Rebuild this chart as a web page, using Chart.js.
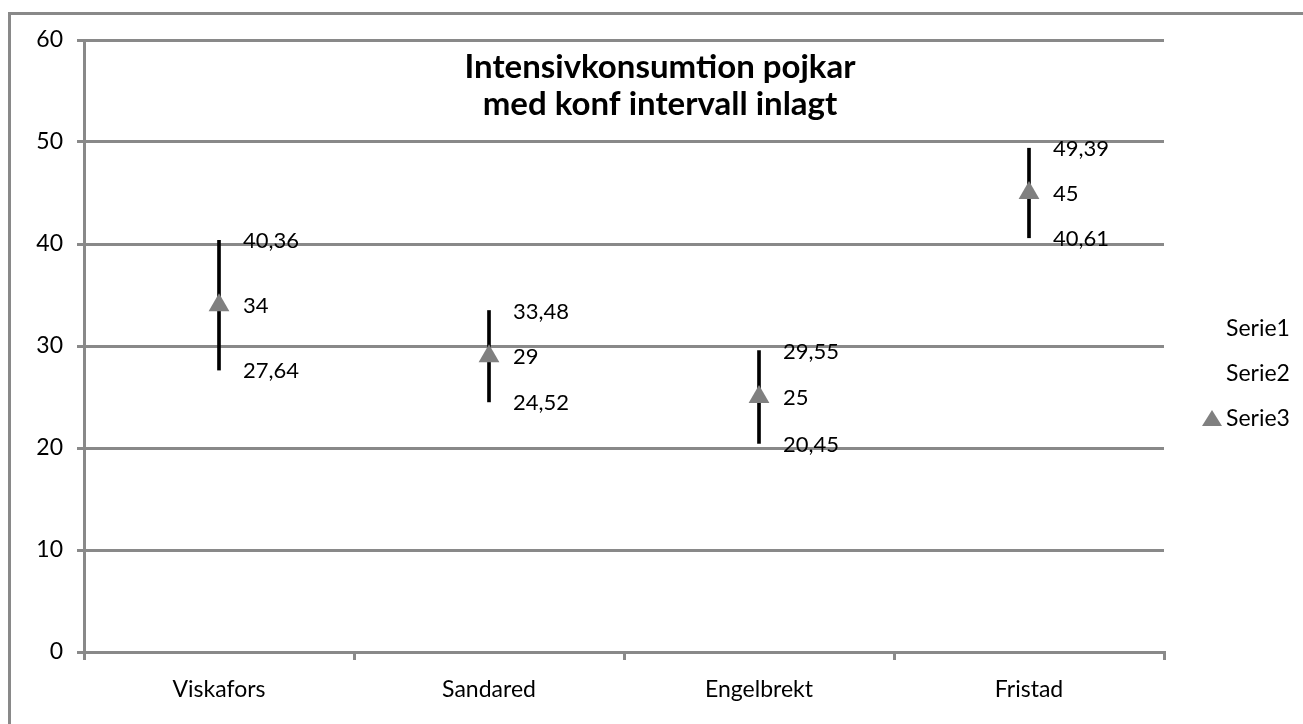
<!DOCTYPE html>
<html>
<head>
<meta charset="utf-8">
<title>Intensivkonsumtion pojkar</title>
<script src="https://cdn.jsdelivr.net/npm/chart.js@4/dist/chart.umd.min.js"></script>
<style>
  html, body { margin: 0; padding: 0; background: #fff; }
  #wrap { width: 1303px; height: 724px; }
</style>
</head>
<body>
<div id="wrap"><canvas id="canvas" width="1303" height="724"></canvas></div>
<script>
// data
const categories = ['Viskafors', 'Sandared', 'Engelbrekt', 'Fristad'];
const serie1 = [40.36, 33.48, 29.55, 49.39]; // upper limit
const serie2 = [27.64, 24.52, 20.45, 40.61]; // lower limit
const serie3 = [34, 29, 25, 45];             // value
const seriesNames = ['Serie1', 'Serie2', 'Serie3'];
const titleLines = ['Intensivkonsumtion pojkar', 'med konf intervall inlagt'];
const yMin = 0;
const yMax = 60;
const yStep = 10;

const FONT = 'Lato';
const GRID = '#898989';

const fmt = (v) => String(v).replace('.', ',');

// outer frame (only top and left edge are inside the picture)
const framePlugin = {
  id: 'frame',
  beforeDraw(chart) {
    const ctx = chart.ctx;
    ctx.save();
    ctx.fillStyle = '#fff';
    ctx.fillRect(0, 0, chart.width, chart.height);
    ctx.strokeStyle = GRID;
    ctx.lineWidth = 3;
    ctx.beginPath();
    ctx.moveTo(9.5, chart.height + 5);
    ctx.lineTo(9.5, 13.5);
    ctx.lineTo(chart.width + 5, 13.5);
    ctx.stroke();
    ctx.restore();
  }
};

// value labels to the right of each mark
const valueLabels = {
  id: 'valueLabels',
  afterDatasetsDraw(chart) {
    const ctx = chart.ctx;
    ctx.save();
    ctx.font = '22px ' + FONT;
    ctx.fillStyle = '#000';
    ctx.textAlign = 'left';
    ctx.textBaseline = 'middle';
    chart.data.datasets.forEach((ds, di) => {
      if (ds.type !== 'line') return;
      chart.getDatasetMeta(di).data.forEach((pt, i) => {
        ctx.fillText(fmt(ds.data[i]), pt.x + 24, pt.y + 1);
      });
    });
    ctx.restore();
  }
};

// title inside the plot and legend on the right
const titleLegend = {
  id: 'titleLegend',
  afterDraw(chart) {
    const ctx = chart.ctx;
    ctx.save();
    ctx.fillStyle = '#000';
    ctx.textAlign = 'center';
    ctx.textBaseline = 'middle';
    ctx.font = 'bold 33px ' + FONT;
    titleLines.forEach((t, i) => ctx.fillText(t, 660, 67 + i * 37));

    ctx.font = '23px ' + FONT;
    ctx.textAlign = 'left';
    const lx = 1226;
    const ly = 329;
    seriesNames.forEach((name, i) => {
      const y = ly + i * 45;
      ctx.fillStyle = '#000';
      ctx.fillText(name, lx, y);
      if (i === 2) {
        ctx.fillStyle = '#808080';
        ctx.beginPath();
        ctx.moveTo(1212, y - 9);
        ctx.lineTo(1222, y + 7);
        ctx.lineTo(1202, y + 7);
        ctx.closePath();
        ctx.fill();
      }
    });
    ctx.restore();
  }
};

const canvas = document.getElementById('canvas');

new Chart(canvas, {
  type: 'bar',
  data: {
    labels: categories,
    datasets: [
      {
        label: 'range',
        data: categories.map((c, i) => [serie2[i], serie1[i]]),
        backgroundColor: '#000',
        borderWidth: 0,
        barThickness: 3,
        order: 3,
      },
      {
        type: 'line',
        label: seriesNames[0],
        data: serie1,
        showLine: false,
        pointRadius: 0,
        order: 2,
      },
      {
        type: 'line',
        label: seriesNames[1],
        data: serie2,
        showLine: false,
        pointRadius: 0,
        order: 1,
      },
      {
        type: 'line',
        label: seriesNames[2],
        data: serie3,
        showLine: false,
        pointStyle: 'triangle',
        pointRadius: 12,
        pointBorderWidth: 0,
        pointBackgroundColor: '#808080',
        pointBorderColor: '#808080',
        order: 0,
      },
    ],
  },
  options: {
    responsive: false,
    animation: false,
    layout: {
      padding: { left: 0, top: 40, right: 139, bottom: 0 },
    },
    plugins: {
      legend: { display: false },
      title: { display: false },
      tooltip: { enabled: false },
    },
    scales: {
      x: {
        offset: true,
        afterFit(scale) { scale.height = 72; },
        grid: {
          offset: true,
          drawOnChartArea: false,
          drawTicks: true,
          tickLength: 8,
          color: GRID,
          lineWidth: 3,
        },
        border: { display: true, color: GRID, width: 3 },
        ticks: {
          color: '#000',
          padding: 16,
          font: { family: FONT, size: 23 },
        },
      },
      y: {
        min: yMin,
        max: yMax,
        afterFit(scale) { scale.width = 84; },
        grid: {
          color: GRID,
          lineWidth: 3,
          tickLength: 7,
        },
        border: { display: true, color: GRID, width: 3 },
        ticks: {
          stepSize: yStep,
          color: '#000',
          padding: 14,
          font: { family: FONT, size: 23 },
        },
      },
    },
  },
  plugins: [framePlugin, valueLabels, titleLegend],
});
</script>
</body>
</html>
